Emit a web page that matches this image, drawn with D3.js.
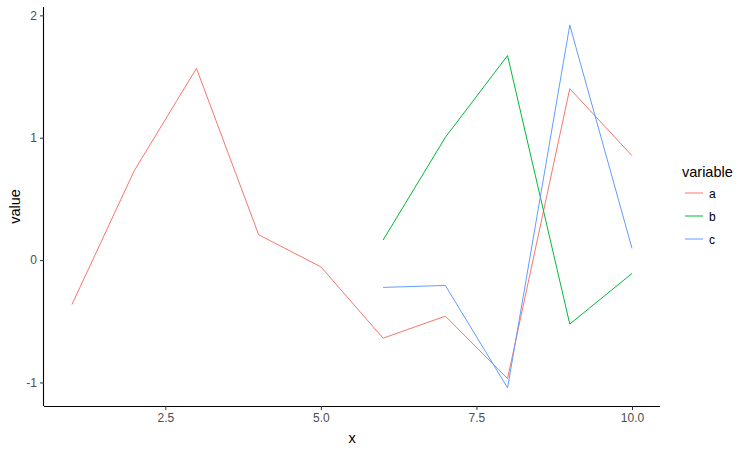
<!DOCTYPE html>
<html><head><meta charset="utf-8">
<script src="https://cdn.jsdelivr.net/npm/d3@7"></script>
<style>body{margin:0;background:#fff}svg{display:block}text{font-family:Arial,"Liberation Sans",sans-serif}</style>
</head><body>
<script>
const xs = [1,2,3,4,5,6,7,8,9,10];
const seriesA = [-0.362,0.73,1.567,0.207,-0.055,-0.638,-0.458,-0.968,1.401,0.853];
const xsBC = [6,7,8,9,10];
const seriesB = [0.164,1.003,1.671,-0.523,-0.109];
const seriesC = [-0.223,-0.207,-1.044,1.92,0.096];
const variables = ["a","b","c"];
const colors = ["#F8766D","#00BA38","#619CFF"];
const xTicks = [2.5,5.0,7.5,10.0];
const yTicks = [-1,0,1,2];

const W=748,H=450;
const m={left:44,right:660,top:7,bottom:406};
const svg=d3.select("body").append("svg").attr("width",W).attr("height",H);

const series=[
  {name:"a",pts:xs.map((x,i)=>[x,seriesA[i]])},
  {name:"b",pts:xsBC.map((x,i)=>[x,seriesB[i]])},
  {name:"c",pts:xsBC.map((x,i)=>[x,seriesC[i]])}
];
const allY=[...seriesA,...seriesB,...seriesC];
const yMin=d3.min(allY),yMax=d3.max(allY);
const yPad=(yMax-yMin)*0.05;
const x=d3.scaleLinear().domain([1-0.45,10+0.45]).range([m.left,m.right]);
const y=d3.scaleLinear().domain([yMin-yPad,yMax+yPad]).range([m.bottom,m.top]);
const color=d3.scaleOrdinal().domain(variables).range(colors);

const line=d3.line().x(d=>x(d[0])).y(d=>y(d[1]));
svg.append("g").selectAll("path").data(series).join("path")
  .attr("d",d=>line(d.pts)).attr("fill","none")
  .attr("stroke",d=>color(d.name)).attr("stroke-width",1);

const xa=svg.append("g").attr("transform",`translate(0,${m.bottom})`)
  .call(d3.axisBottom(x).tickValues(xTicks).tickFormat(d3.format(".1f")).tickSize(4).tickPadding(3));
const ya=svg.append("g").attr("transform",`translate(${m.left},0)`)
  .call(d3.axisLeft(y).tickValues(yTicks).tickFormat(d=>String(d)).tickSize(4).tickPadding(3));
[xa,ya].forEach(a=>{
  a.select(".domain").attr("stroke","#000").attr("stroke-width",1.1);
  a.selectAll(".tick line").attr("stroke","#333");
  a.selectAll(".tick text").attr("fill","#4d4d4d").attr("font-size",12);
});
ya.select(".domain").attr("d",`M-0.5,${m.bottom}V${m.top}`);
xa.select(".domain").attr("d",`M${m.left},0.5H${m.right}`);

svg.append("text").attr("x",(m.left+m.right)/2).attr("y",443).attr("text-anchor","middle")
  .attr("font-size",14.5).attr("fill","#000").text("x");
svg.append("text").attr("transform",`translate(20,${(m.top+m.bottom)/2}) rotate(-90)`)
  .attr("text-anchor","middle").attr("font-size",14.5).attr("fill","#000").text("value");

const lg=svg.append("g");
lg.append("text").attr("x",682).attr("y",177).attr("font-size",14.5).attr("fill","#000").text("variable");
variables.forEach((v,i)=>{
  const cy=193+i*23;
  lg.append("line").attr("x1",685).attr("x2",703).attr("y1",cy).attr("y2",cy)
    .attr("stroke",color(v)).attr("stroke-width",1);
  lg.append("text").attr("x",709).attr("y",cy+4.5).attr("font-size",12).attr("fill","#000").text(v);
});
</script>
</body></html>
